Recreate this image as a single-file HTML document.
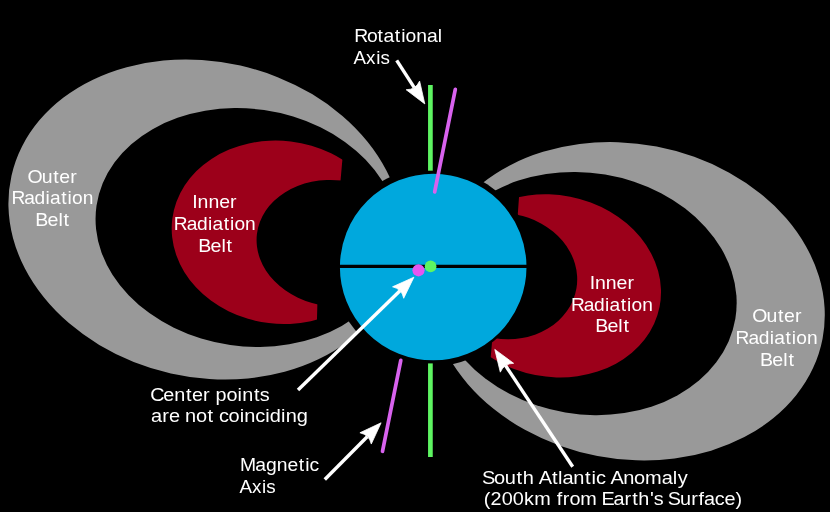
<!DOCTYPE html>
<html><head><meta charset="utf-8"><style>html,body{margin:0;padding:0;background:#000;width:830px;height:512px;overflow:hidden}svg{display:block;will-change:transform}text{font-family:"Liberation Sans",sans-serif}</style></head><body><svg width="830" height="512" viewBox="0 0 830 512"><rect width="830" height="512" fill="#000"/><defs>
<mask id="mLG" maskUnits="userSpaceOnUse" x="0" y="0" width="830" height="512"><rect width="830" height="512" fill="#000"/><ellipse cx="205.66" cy="219.51" rx="199.05" ry="157.77" transform="rotate(12.726 205.66 219.51)" fill="#fff"/><ellipse cx="247.15" cy="227.54" rx="152.21" ry="118.66" transform="rotate(8.210 247.15 227.54)" fill="#000"/></mask>
<mask id="mRG" maskUnits="userSpaceOnUse" x="0" y="0" width="830" height="512"><rect width="830" height="512" fill="#000"/><ellipse cx="627.06" cy="301.25" rx="199.04" ry="157.51" transform="rotate(10.829 627.06 301.25)" fill="#fff"/><ellipse cx="585.25" cy="293.52" rx="152.19" ry="120.67" transform="rotate(9.508 585.25 293.52)" fill="#000"/></mask>
<mask id="mLR" maskUnits="userSpaceOnUse" x="0" y="0" width="830" height="512"><rect width="830" height="512" fill="#000"/><ellipse cx="279.77" cy="232.29" rx="108.30" ry="91.48" transform="rotate(6.895 279.77 232.29)" fill="#fff"/><ellipse cx="334.49" cy="243.28" rx="78.11" ry="63.11" transform="rotate(6.761 334.49 243.28)" fill="#000"/></mask>
<mask id="mRR" maskUnits="userSpaceOnUse" x="0" y="0" width="830" height="512"><rect width="830" height="512" fill="#000"/><ellipse cx="552.73" cy="285.86" rx="108.88" ry="90.86" transform="rotate(11.078 552.73 285.86)" fill="#fff"/><ellipse cx="504.11" cy="276.13" rx="73.38" ry="62.76" transform="rotate(9.591 504.11 276.13)" fill="#000"/></mask>
<clipPath id="cLR"><path d="M0 0 H342.5 L342.4 159.5 L340.5 181 L330 200 L300 250 L317.4 303 L316.9 322 L316.9 512 H0 Z"/></clipPath>
<clipPath id="cRR"><path d="M830 0 H519.3 L519.2 194.5 L517.8 214 L530 240 L540 280 L492.3 339 L490.4 361 L490.4 512 H830 Z"/></clipPath>
</defs><rect width="830" height="512" fill="#999999" mask="url(#mLG)"/><rect width="830" height="512" fill="#999999" mask="url(#mRG)"/><circle cx="432.0" cy="267.0" r="99.4" fill="#000"/><g clip-path="url(#cLR)"><rect width="830" height="512" fill="#9c001a" mask="url(#mLR)"/></g><g clip-path="url(#cRR)"><rect width="830" height="512" fill="#9c001a" mask="url(#mRR)"/></g><circle cx="433.2" cy="267.0" r="94.5" fill="#00a8dd" stroke="#000" stroke-width="2.4"/><line x1="336" y1="266.4" x2="531" y2="266.4" stroke="#000" stroke-width="3.4"/><line x1="430.4" y1="85" x2="430.4" y2="170.7" stroke="#5ef562" stroke-width="4.7"/><line x1="430.4" y1="363.4" x2="430.4" y2="457" stroke="#5ef562" stroke-width="4.7"/><line x1="455.3" y1="89.3" x2="434.7" y2="191.9" stroke="#d862ee" stroke-width="3.7" stroke-linecap="round"/><line x1="400.8" y1="360.4" x2="382.5" y2="451.3" stroke="#d862ee" stroke-width="3.7" stroke-linecap="round"/><circle cx="430.6" cy="266.4" r="5.9" fill="#5ef562"/><circle cx="418.5" cy="270.3" r="6.1" fill="#e656f0"/><line x1="396.70" y1="60.30" x2="414.29" y2="87.59" stroke="#fff" stroke-width="3.40"/><path d="M424.80 103.90 L406.16 89.74 Q415.70 89.78 419.61 81.07 Z" fill="#fff" stroke="#fff" stroke-width="0.8" stroke-linejoin="round"/><line x1="298.00" y1="390.00" x2="400.00" y2="290.73" stroke="#fff" stroke-width="3.40"/><path d="M413.90 277.20 L403.71 298.28 Q401.86 288.92 392.55 286.81 Z" fill="#fff" stroke="#fff" stroke-width="0.8" stroke-linejoin="round"/><line x1="324.80" y1="479.50" x2="367.43" y2="436.57" stroke="#fff" stroke-width="3.40"/><path d="M381.10 422.80 L371.28 444.05 Q369.26 434.72 359.92 432.77 Z" fill="#fff" stroke="#fff" stroke-width="0.8" stroke-linejoin="round"/><line x1="572.70" y1="466.70" x2="505.53" y2="365.56" stroke="#fff" stroke-width="3.40"/><path d="M494.80 349.40 L513.64 363.30 Q504.09 363.39 500.31 372.15 Z" fill="#fff" stroke="#fff" stroke-width="0.8" stroke-linejoin="round"/><g fill="#fff" font-family="Liberation Sans, sans-serif"><text transform="translate(0 41.50) scale(1.0632 1)" x="333.23 345.27 355.18 360.75 371.39 377.29 381.43 391.48 401.54 411.75" y="0" font-size="18.17">Rotational</text><text transform="translate(0 63.70) scale(1.0364 1)" x="341.15 353.23 362.94 367.03" y="0" font-size="18.17">Axis</text><text transform="translate(0 182.70) scale(1.0715 1)" x="25.60 38.98 49.72 55.25 65.50" y="0" font-size="18.17">Outer</text><text transform="translate(0 204.00) scale(1.0558 1)" x="10.84 22.97 32.75 43.19 47.39 58.08 64.03 68.22 78.34" y="0" font-size="18.17">Radiation</text><text transform="translate(0 225.90) scale(1.0796 1)" x="32.64 43.98 54.11 58.93" y="0" font-size="18.17">Belt</text><text transform="translate(0 208.30) scale(1.0719 1)" x="179.41 184.31 194.45 204.44 214.68" y="0" font-size="18.17">Inner</text><text transform="translate(0 230.30) scale(1.0558 1)" x="164.66 176.79 186.57 197.02 201.21 211.91 217.85 222.04 232.16" y="0" font-size="18.17">Radiation</text><text transform="translate(0 252.20) scale(1.0796 1)" x="183.62 194.96 205.09 209.91" y="0" font-size="18.17">Belt</text><text transform="translate(0 288.90) scale(1.0719 1)" x="550.14 555.04 565.18 575.17 585.41" y="0" font-size="18.17">Inner</text><text transform="translate(0 311.00) scale(1.0558 1)" x="540.79 552.92 562.69 573.14 577.34 588.03 593.98 598.17 608.28" y="0" font-size="18.17">Radiation</text><text transform="translate(0 332.20) scale(1.0796 1)" x="551.30 562.65 572.77 577.59" y="0" font-size="18.17">Belt</text><text transform="translate(0 322.30) scale(1.0715 1)" x="701.97 715.35 726.09 731.63 741.87" y="0" font-size="18.17">Outer</text><text transform="translate(0 344.30) scale(1.0558 1)" x="696.74 708.87 718.65 729.09 733.29 743.98 749.93 754.12 764.24" y="0" font-size="18.17">Radiation</text><text transform="translate(0 366.40) scale(1.0796 1)" x="704.04 715.39 725.52 730.33" y="0" font-size="18.17">Belt</text><text transform="translate(0 400.60) scale(1.0718 1)" x="140.17 152.39 162.56 173.49 179.11 189.53 195.98 201.16 211.30 221.63 225.97 236.89 242.27" y="0" font-size="18.49">Center points</text><text transform="translate(0 422.30) scale(1.0803 1)" x="139.86 150.19 156.42 166.17 171.28 181.34 192.02 197.76 202.71 211.57 221.85 226.12 236.20 245.45 249.74 260.19 264.47 274.71" y="0" font-size="18.49">are not coinciding</text><text transform="translate(0 471.40) scale(1.0650 1)" x="225.28 239.68 249.72 259.94 269.99 280.63 286.53 290.67" y="0" font-size="18.17">Magnetic</text><text transform="translate(0 493.10) scale(1.0364 1)" x="231.06 243.14 252.86 256.94" y="0" font-size="18.17">Axis</text><text transform="translate(0 484.00) scale(1.0824 1)" x="445.28 456.35 466.39 477.24 482.93 493.18 497.66 509.93 515.56 519.65 529.70 540.54 546.46 550.56 559.61 564.09 575.74 585.78 596.00 611.35 621.62 626.06" y="0" font-size="18.49">South Atlantic Anomaly</text><text transform="translate(0 504.80) scale(1.0728 1)" x="450.96 457.24 467.59 477.94 488.34 497.90 513.54 518.99 524.68 530.94 540.92 556.56 560.69 571.83 582.22 589.27 595.04 605.80 609.42 618.29 622.44 633.79 644.35 651.06 656.34 666.31 675.27 685.51" y="0" font-size="18.49">(200km from Earth&#x27;s Surface)</text></g></svg></body></html>
